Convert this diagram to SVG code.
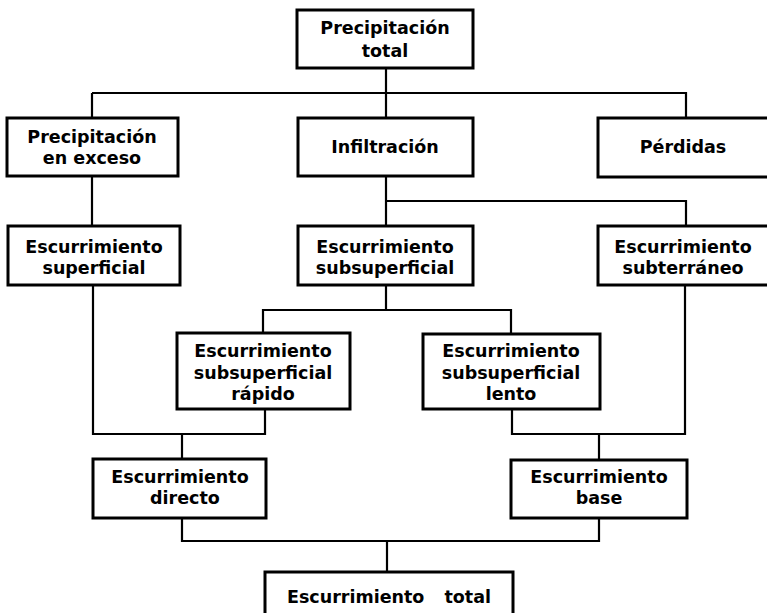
<svg xmlns="http://www.w3.org/2000/svg" width="767" height="613" viewBox="0 0 767 613">
<style>
.box{fill:#fff;stroke:#000;stroke-width:3}
.ln{fill:none;stroke:#000;stroke-width:2.2}
text{font-family:"DejaVu Sans",sans-serif;font-weight:bold;font-size:17.5px;fill:#000;text-anchor:middle}
</style>
<rect width="767" height="613" fill="#fff"/>
<g id="connectors" class="ln">
<path d="M386 68V118"/>
<path d="M92 93H686V118"/>
<path d="M92 93V118"/>
<path d="M92 176V226"/>
<path d="M386 176V226"/>
<path d="M386 201H686V226"/>
<path d="M386 285V310"/>
<path d="M263 333V310H511V333"/>
<path d="M93 285V434H265V409"/>
<path d="M182 434V459"/>
<path d="M685 285V434H512V409"/>
<path d="M599 434V460"/>
<path d="M182 518V541H599V518"/>
<path d="M387 541V572"/>
</g>
<g id="n1"><rect class="box" x="297" y="10" width="176" height="58"/><text x="385" y="34">Precipitación</text><text x="385" y="57">total</text></g>
<g id="n2"><rect class="box" x="7" y="118" width="171" height="58"/><text x="92" y="143">Precipitación</text><text x="92" y="164">en exceso</text></g>
<g id="n3"><rect class="box" x="298" y="118" width="175" height="58"/><text x="385" y="153">Infiltración</text></g>
<g id="n4"><rect class="box" x="598" y="118" width="175" height="59"/><text x="683" y="153">Pérdidas</text></g>
<g id="n5"><rect class="box" x="8" y="226" width="172" height="59"/><text x="94" y="253">Escurrimiento</text><text x="94" y="274">superficial</text></g>
<g id="n6"><rect class="box" x="298" y="226" width="175" height="59"/><text x="385" y="253">Escurrimiento</text><text x="385" y="274">subsuperficial</text></g>
<g id="n7"><rect class="box" x="598" y="226" width="175" height="59"/><text x="683" y="253">Escurrimiento</text><text x="683" y="274">subterráneo</text></g>
<g id="n8"><rect class="box" x="177" y="333" width="173" height="76"/><text x="263" y="357">Escurrimiento</text><text x="263" y="379">subsuperficial</text><text x="263" y="400">rápido</text></g>
<g id="n9"><rect class="box" x="423" y="334" width="177" height="75"/><text x="511" y="357">Escurrimiento</text><text x="511" y="379">subsuperficial</text><text x="511" y="400">lento</text></g>
<g id="n10"><rect class="box" x="93" y="459" width="173" height="59"/><text x="180" y="483">Escurrimiento</text><text x="185" y="504">directo</text></g>
<g id="n11"><rect class="box" x="511" y="460" width="176" height="58"/><text x="599" y="483">Escurrimiento</text><text x="599" y="504">base</text></g>
<g id="n12"><rect class="box" x="265" y="572" width="248" height="46"/><text x="389" y="603" style="word-spacing:14px">Escurrimiento total</text></g>
</svg>
